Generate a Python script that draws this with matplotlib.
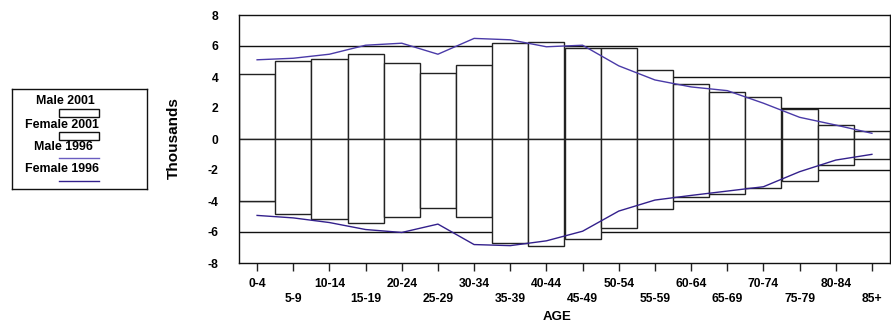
import numpy as np
import matplotlib.pyplot as plt
from matplotlib.patches import Rectangle

plt.rcParams['font.family'] = ['Liberation Sans', 'DejaVu Sans']
plt.rcParams['font.weight'] = 'bold'

ages = ['0-4', '5-9', '10-14', '15-19', '20-24', '25-29', '30-34', '35-39', '40-44',
        '45-49', '50-54', '55-59', '60-64', '65-69', '70-74', '75-79', '80-84', '85+']

# thousands
male_2001 = [4.20, 5.06, 5.17, 5.49, 4.89, 4.29, 4.76, 6.19, 6.25,
             5.86, 5.90, 4.42, 3.53, 3.06, 2.74, 1.92, 0.90, 0.54]
female_2001 = [-3.99, -4.87, -5.19, -5.41, -5.04, -4.46, -5.06, -6.68, -6.92,
               -6.42, -5.73, -4.53, -3.73, -3.56, -3.15, -2.69, -1.68, -1.29]
male_1996 = [5.11, 5.21, 5.47, 6.05, 6.18, 5.47, 6.49, 6.40, 5.95,
             6.05, 4.72, 3.81, 3.36, 3.12, 2.31, 1.40, 0.90, 0.37]
female_1996 = [-4.93, -5.09, -5.39, -5.84, -6.03, -5.49, -6.81, -6.88, -6.57,
               -5.95, -4.65, -3.94, -3.64, -3.36, -3.08, -2.11, -1.36, -0.99]

male_col = '#4a3aa8'
female_col = '#33208c'

fig = plt.figure(figsize=(8.91, 3.26), dpi=100)
ax = fig.add_axes([239/891, 1-263/326, 651/891, 248/326])

x = np.arange(len(ages))

# grid lines sit behind the white bars
for g in [-6, -4, -2, 0, 2, 4, 6]:
    ax.axhline(g, color='#111111', lw=1, zorder=0)

ax.bar(x, male_2001, width=1, color='white', edgecolor='#222222', lw=1, zorder=2)
ax.bar(x, female_2001, width=1, color='white', edgecolor='#222222', lw=1, zorder=2)
ax.plot(x, male_1996, color=male_col, lw=1, zorder=3)
ax.plot(x, female_1996, color=female_col, lw=1, zorder=3)

ax.set_xlim(-0.5, len(ages) - 0.5)
ax.set_ylim(-8, 8)
ax.set_yticks(np.arange(-8, 9, 2))
ax.set_yticklabels([str(v) for v in range(-8, 9, 2)], fontsize=8.7, fontweight='bold')
ax.tick_params(axis='y', length=0, pad=15)

ax.set_xticks(x)
ax.set_xticklabels([a if i % 2 == 0 else '\n' + a for i, a in enumerate(ages)],
                   fontsize=8.7, fontweight='bold', linespacing=1.25)
ax.tick_params(axis='x', length=6, width=1, pad=5, direction='out', color='#222222')

for s in ax.spines.values():
    s.set_linewidth(1)
    s.set_color('#111111')

ax.set_ylabel('Thousands', fontsize=11, fontweight='bold')
ax.yaxis.set_label_coords(-0.089, 0.504)
ax.set_xlabel('AGE', fontsize=9.5, fontweight='bold')
ax.xaxis.set_label_coords(0.488, -0.194)

# legend box, text above each key
lg = fig.add_axes([12/891, 1-189/326, 135/891, 100/326])
lg.set_xlim(0, 135)
lg.set_ylim(100, 0)
lg.set_xticks([])
lg.set_yticks([])
for s in lg.spines.values():
    s.set_linewidth(1)
    s.set_color('#111111')
fs = 8.9
lg.text(53, 12, 'Male 2001', ha='center', va='center', fontsize=fs, fontweight='bold')
lg.add_patch(Rectangle((47, 20), 40, 7.5, facecolor='white', edgecolor='#111111', lw=1))
lg.text(50, 36, 'Female 2001', ha='center', va='center', fontsize=fs, fontweight='bold')
lg.add_patch(Rectangle((47, 43), 40, 7.5, facecolor='white', edgecolor='#111111', lw=1))
lg.text(51.5, 57.5, 'Male 1996', ha='center', va='center', fontsize=fs, fontweight='bold')
lg.plot([47, 87], [68.5, 68.5], color='#6a5cc0', lw=1)
lg.text(50, 80.5, 'Female 1996', ha='center', va='center', fontsize=fs, fontweight='bold')
lg.plot([47, 87], [91.5, 91.5], color=female_col, lw=1)

fig.savefig('out.png', dpi=100)
